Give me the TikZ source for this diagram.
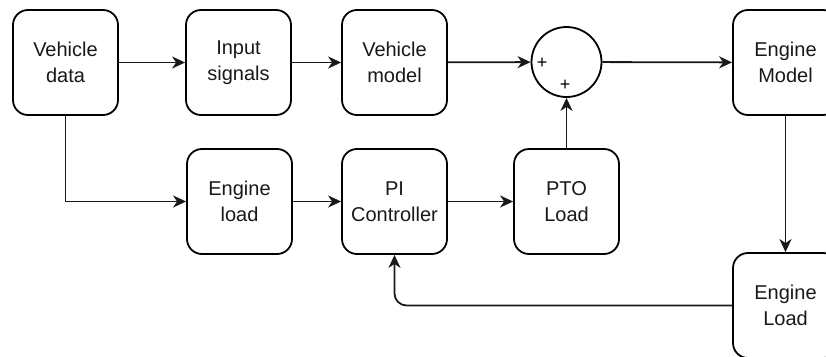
\documentclass[tikz,border=0pt]{standalone}
\usepackage{fontspec}
\setmainfont{Liberation Sans}
\usetikzlibrary{arrows.meta,positioning,calc}

\begin{document}
\begin{tikzpicture}[
    x=1pt, y=-1pt,
    block/.style={rectangle, rounded corners=15pt, draw, line width=1.8pt, fill=white, text=black!90,
        align=center, minimum width=105pt, minimum height=105pt, font=\fontsize{20}{26}\selectfont},
    sumnode/.style={circle, draw, line width=1.8pt, fill=white, minimum size=70pt},
    sign/.style={inner sep=0pt, font=\fontsize{18}{18}\selectfont},
    link/.style={-{Stealth[length=13pt, width=12pt, inset=4pt]}, line width=1.8pt, black!90}
]
\useasboundingbox (0,0) rectangle (826,356);

% Upper row
\node[block] (vdata) at (65.5,62.5) {Vehicle\\data};
\node[block] (input) at (238.5,62.5) {Input\\signals};
\node[block] (vmodel) at (394.5,62.5) {Vehicle\\model};
\node[sumnode] (sum) at (566.5,62) {};
\node[sign] (plusa) at (542,63) {+};
\node[sign] (plusb) at (565,85.5) {+};
\node[block] (emodel) at (785.5,62.5) {Engine\\Model};

% Lower row
\node[block] (eload) at (239.5,201.5) {Engine\\load};
\node[block] (pi) at (394.5,201.5) {PI\\Controller};
\node[block] (pto) at (566.5,201.5) {PTO\\Load};
\node[block] (eloadout) at (785.5,305.5) {Engine\\Load};

% Signal flow
\draw[link] (vdata) -- (input);
\draw[link] (input) -- (vmodel);
\draw[link] (vmodel) -- (sum);
\draw[link] (sum) -- (emodel);
\draw[link] (vdata.south) |- (eload.west);
\draw[link] (eload) -- (pi);
\draw[link] (pi) -- (pto);
\draw[link] (pto) -- (sum);
\draw[link] (emodel) -- (eloadout);

% Feedback
\draw[link, rounded corners=12pt] (eloadout.west) -- (pi.south |- eloadout.west) -- (pi.south);

\end{tikzpicture}
\end{document}
